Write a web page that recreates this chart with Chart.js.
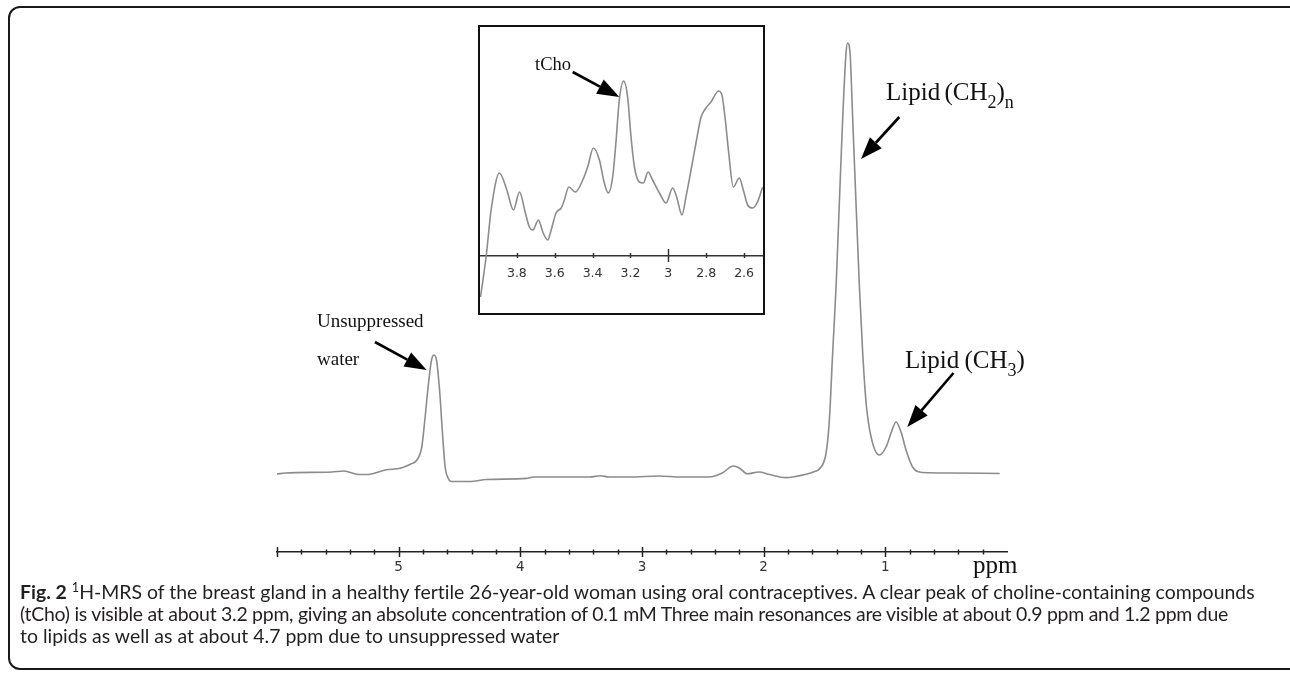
<!DOCTYPE html>
<html>
<head>
<meta charset="utf-8">
<script src="https://cdn.jsdelivr.net/npm/chart.js@4"></script>
<style>
  html, body { margin: 0; padding: 0; background: #fff; }
  body { width: 1290px; height: 674px; overflow: hidden; position: relative; }
  .frame { position: absolute; left: 8px; top: 6px; width: 1300px; height: 664px; border: 2px solid #1a1a1a; border-radius: 12px; box-sizing: border-box; }
  #main { position: absolute; left: 0; top: 0; }
  #inset { position: absolute; left: 479px; top: 26px; }
  .box { position: absolute; left: 478px; top: 25px; width: 287px; height: 290px; border: 2px solid #111; box-sizing: border-box; }
  .lbl { position: absolute; font-family: "Liberation Serif", "Times New Roman", serif; color: #111; line-height: 1; white-space: nowrap; }
  .lbl sub { font-size: 0.72em; vertical-align: -0.42em; line-height: 0; }
  .caption { position: absolute; left: 20px; top: 581px; font-family: Lato, "Open Sans", sans-serif; font-size: 16px; line-height: 22px; color: #231f20; white-space: nowrap; font-variant-ligatures: none; }
  .caption sup { font-size: 0.65em; vertical-align: 0.55em; line-height: 0; }
</style>
</head>
<body>
<div class="frame"></div>
<canvas id="main" width="1290" height="600"></canvas>
<canvas id="inset" width="284" height="287"></canvas>
<div class="box"></div>

<div class="lbl" style="left:535px; top:55px; font-size:18.5px;">tCho</div>
<div class="lbl" style="left:317px; top:311px; font-size:19px;">Unsuppressed</div>
<div class="lbl" style="left:317px; top:349px; font-size:19px;">water</div>
<div class="lbl" style="left:886px; top:79px; font-size:25px; word-spacing:-2px;">Lipid (CH<sub>2</sub>)<sub>n</sub></div>
<div class="lbl" style="left:905px; top:347px; font-size:25px; word-spacing:-1px;">Lipid (CH<sub>3</sub>)</div>
<div class="lbl" style="left:973px; top:552px; font-size:25px;">ppm</div>

<div class="caption">
  <div class="line"><b>Fig. 2</b> <sup>1</sup>H-MRS of the breast gland in a healthy fertile 26-year-old woman using oral contraceptives. A clear peak of choline-containing compounds</div>
  <div class="line" data-w="1208">(tCho) is visible at about 3.2 ppm, giving an absolute concentration of 0.1 mM Three main resonances are visible at about 0.9 ppm and 1.2 ppm due</div>
  <div class="line">to lipids as well as at about 4.7 ppm due to unsuppressed water</div>
</div>

<script>
// main spectrum (ppm, left to right)
const mainPpm = [6.00, 5.93, 5.55, 5.45, 5.33, 5.25, 5.11, 4.98, 4.90, 4.85, 4.81, 4.785, 4.758, 4.730, 4.711, 4.689,
  4.662, 4.640, 4.618, 4.594, 4.567, 4.41, 4.28, 3.95, 3.89, 3.43, 3.34, 3.27, 3.10, 2.86, 2.68, 2.45, 2.34, 2.25,
  2.20, 2.135, 2.04, 1.95, 1.82, 1.76, 1.57, 1.542, 1.487, 1.460, 1.433, 1.405, 1.378, 1.351, 1.323, 1.310, 1.290,
  1.268, 1.241, 1.213, 1.186, 1.158, 1.117, 1.049, 0.994, 0.953, 0.912, 0.871, 0.830, 0.776, 0.694, 0.475, 0.06];
const mainIntensity = [2, 3, 4, 5, 1.5, 1.5, 6, 8, 12, 16, 29, 56, 89, 116, 121, 116,
  83, 43, 9, -2, -5.5, -5.5, -3.5, -2.4, -1, -1, 0.3, -1, -1, 0, -1, -1, 3, 10,
  8, 2.2, 4, 1.5, -1.6, -1, 5, 7, 23, 56, 123, 189, 273, 356, 423, 433, 423,
  356, 273, 189, 123, 73, 39, 21, 29, 43, 54, 44, 26, 9, 3.5, 3, 2.5];
const mainTickLabels = [5, 4, 3, 2, 1];

// zoomed region 4.0 - 2.5 ppm
const insetPpm = [3.992, 3.962, 3.936, 3.892, 3.853, 3.818, 3.786, 3.755, 3.734, 3.716, 3.686, 3.663, 3.637, 3.619,
  3.593, 3.566, 3.549, 3.526, 3.491, 3.452, 3.426, 3.396, 3.364, 3.338, 3.317, 3.294, 3.277, 3.259, 3.236, 3.215,
  3.197, 3.179, 3.153, 3.132, 3.107, 3.083, 3.047, 3.012, 2.977, 2.956, 2.928, 2.907, 2.880, 2.854, 2.827, 2.805,
  2.775, 2.735, 2.717, 2.699, 2.681, 2.657, 2.625, 2.604, 2.581, 2.555, 2.529, 2.502];
const insetIntensity = [-41, 0, 46, 83, 66, 46, 64, 43, 29, 26, 36, 24, 16, 26,
  43, 48, 56, 69, 64, 76, 89, 108, 96, 73, 63, 79, 113, 156, 175, 159,
  119, 89, 74, 73, 84, 76, 63, 53, 68, 59, 41, 59, 86, 113, 139, 147,
  154, 165, 161, 136, 103, 69, 78, 66, 51, 48, 54, 69];
const insetTickLabels = [3.8, 3.6, 3.4, 3.2, 3, 2.8, 2.6];

const round1 = v => Math.round(v * 10) / 10;

// tick marks that cross the axis line
const tickMarks = {
  id: "tickMarks",
  afterDraw(chart, args, opts) {
    const sx = chart.scales.x;
    const y = chart.scales.y.getPixelForValue(opts.atValue);
    const ctx = chart.ctx;
    ctx.save();
    ctx.strokeStyle = opts.color;
    ctx.lineWidth = 1.5;
    sx.ticks.forEach(t => {
      const v = round1(t.value);
      if (opts.skip.includes(v)) return;
      const len = Number.isInteger(v) ? opts.major : opts.minor;
      const x = Math.round(sx.getPixelForValue(t.value)) + 0.5;
      ctx.beginPath();
      ctx.moveTo(x, y - len[0]);
      ctx.lineTo(x, y + len[1]);
      ctx.stroke();
    });
    ctx.restore();
  }
};

// annotation arrows, given in data units
const arrows = {
  id: "arrows",
  afterDraw(chart, args, opts) {
    const sx = chart.scales.x, sy = chart.scales.y;
    const ctx = chart.ctx;
    opts.list.forEach(a => {
      const x1 = sx.getPixelForValue(a.from[0]), y1 = sy.getPixelForValue(a.from[1]);
      const x2 = sx.getPixelForValue(a.to[0]), y2 = sy.getPixelForValue(a.to[1]);
      const ang = Math.atan2(y2 - y1, x2 - x1);
      const bx = x2 - opts.head * Math.cos(ang), by = y2 - opts.head * Math.sin(ang);
      const hx = opts.half * Math.sin(ang), hy = opts.half * Math.cos(ang);
      ctx.save();
      ctx.strokeStyle = "#000";
      ctx.fillStyle = "#000";
      ctx.lineWidth = opts.width;
      ctx.beginPath();
      ctx.moveTo(x1, y1);
      ctx.lineTo(bx, by);
      ctx.stroke();
      ctx.beginPath();
      ctx.moveTo(x2, y2);
      ctx.lineTo(bx + hx, by - hy);
      ctx.lineTo(bx - hx, by + hy);
      ctx.closePath();
      ctx.fill();
      ctx.restore();
    });
  }
};

const lineStyle = {
  borderColor: "#8c8c8c",
  borderWidth: 1.6,
  pointRadius: 0,
  fill: false,
  cubicInterpolationMode: "monotone"
};

// no extra side padding for edge labels
const noEdgePad = s => { s.paddingLeft = 0; s.paddingRight = 0; };

new Chart(document.getElementById("main"), {
  type: "line",
  data: {
    datasets: [{ ...lineStyle, data: mainPpm.map((x, i) => ({ x, y: mainIntensity[i] })) }]
  },
  options: {
    responsive: false,
    animation: false,
    layout: { padding: { left: 277, right: 283, top: 30, bottom: 0 } },
    plugins: {
      legend: { display: false },
      tooltip: { enabled: false },
      tickMarks: { atValue: -76, skip: [0], major: [5, 5], minor: [2.5, 2.5], color: "#222" },
      arrows: {
        width: 2.6, head: 22, half: 8,
        list: [
          { from: [5.195, 134], to: [4.770, 106] },
          { from: [0.885, 359], to: [1.200, 317] },
          { from: [0.44, 103], to: [0.820, 49] }
        ]
      }
    },
    scales: {
      x: {
        type: "linear", reverse: true, min: 0, max: 6,
        afterFit: s => { noEdgePad(s); s.height = 48; },
        grid: { display: false, drawTicks: false },
        border: { display: true, color: "#222", width: 1.5 },
        ticks: {
          stepSize: 0.2, includeBounds: false, autoSkip: false, maxRotation: 0, padding: 7,
          color: "#333", font: { family: "DejaVu Sans", size: 13.5 },
          callback: v => mainTickLabels.includes(round1(v)) ? String(round1(v)) : ""
        }
      },
      y: { display: false, min: -76, max: 446 }
    }
  },
  plugins: [tickMarks, arrows]
});

new Chart(document.getElementById("inset"), {
  type: "line",
  data: {
    datasets: [{ ...lineStyle, data: insetPpm.map((x, i) => ({ x, y: insetIntensity[i] })) }]
  },
  options: {
    responsive: false,
    animation: false,
    layout: { padding: 0 },
    plugins: {
      legend: { display: false },
      tooltip: { enabled: false },
      tickMarks: { atValue: 0, skip: [4, 2.4], major: [7, 6], minor: [3, 2], color: "#333" },
      arrows: {
        width: 2.6, head: 22, half: 8,
        list: [{ from: [3.505, 184], to: [3.259, 159] }]
      }
    },
    scales: {
      x: {
        type: "linear", reverse: true, min: 2.5, max: 4.0, position: { y: 0 },
        afterFit: noEdgePad,
        grid: { display: false, drawTicks: false },
        border: { display: true, color: "#333", width: 1.5 },
        ticks: {
          stepSize: 0.2, includeBounds: false, autoSkip: false, maxRotation: 0, padding: 10,
          color: "#333", font: { family: "DejaVu Sans", size: 12.5 },
          callback: v => insetTickLabels.includes(round1(v)) ? String(round1(v)) : ""
        }
      },
      y: { display: false, min: -57, max: 230 }
    }
  },
  plugins: [tickMarks, arrows]
});

// caption: pick the font size that makes the first line as wide as in the figure
const caption = document.querySelector(".caption");
const lines = caption.querySelectorAll(".line");
const widthOf = el => {
  el.style.display = "inline-block";
  const w = el.getBoundingClientRect().width;
  el.style.display = "block";
  return w;
};
caption.style.fontSize = (16 * 1236 / widthOf(lines[0])).toFixed(2) + "px";
lines.forEach(el => {
  if (!el.dataset.w) return;
  el.style.letterSpacing = ((+el.dataset.w - widthOf(el)) / el.textContent.length).toFixed(3) + "px";
});
</script>
</body>
</html>
